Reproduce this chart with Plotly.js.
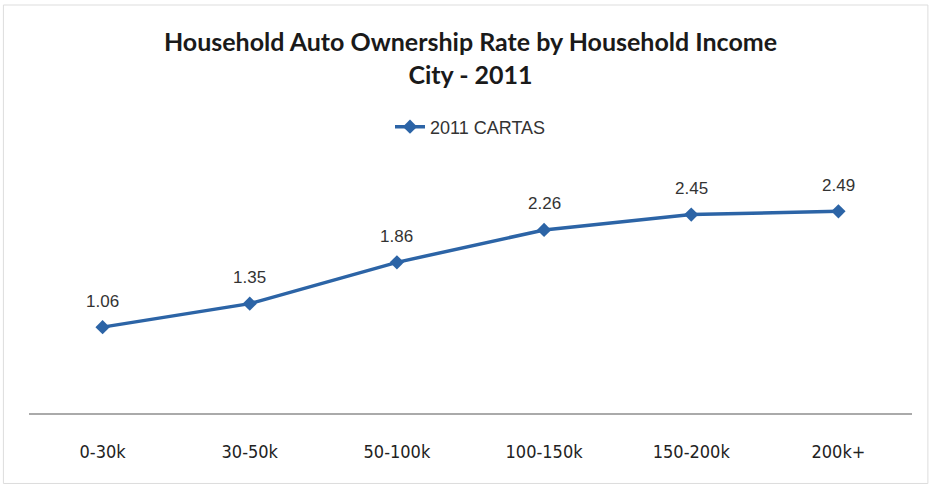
<!DOCTYPE html>
<html><head><meta charset="utf-8">
<script src="https://cdn.plot.ly/plotly-3.0.1.min.js"></script>
<style>html,body{margin:0;padding:0;background:#fff;}#chart{width:932px;height:486px;}</style>
</head><body><div id="chart"></div>
<script>
const categories = ["0-30k", "30-50k", "50-100k", "100-150k", "150-200k", "200k+"];
const values = [1.06, 1.35, 1.86, 2.26, 2.45, 2.49];
const labels = ["1.06", "1.35", "1.86", "2.26", "2.45", "2.49"];
const seriesName = "2011 CARTAS";
const lineColor = "#2c64a6";

const trace = {
  x: categories, y: values, type: "scatter", mode: "lines+markers", name: seriesName,
  line: {color: lineColor, width: 3.5},
  marker: {symbol: "diamond", size: 11, color: lineColor}
};
const annotations = categories.map((c, i) => ({
  x: c, y: values[i], text: labels[i], showarrow: false, yshift: 26,
  font: {family: "Liberation Sans, Arial", size: 17, color: "#333"}
}));
const layout = {
  width: 932, height: 486,
  margin: {l: 29, r: 20, t: 170, b: 73},
  paper_bgcolor: "#fff", plot_bgcolor: "#fff",
  title: {text: "<b>Household Auto Ownership Rate by Household Income</b><br><b>City - 2011</b>",
    x: 0.5, xanchor: "center", xref: "paper", yref: "container", y: 0.895, yanchor: "top",
    font: {family: "Lato, Open Sans, sans-serif", size: 25, color: "#1a1a1a"}},
  showlegend: true,
  legend: {orientation: "h", x: 0.5, xanchor: "center", y: 1.177, yanchor: "middle",
    font: {family: "Liberation Sans, Arial", size: 18, color: "#333"}},
  xaxis: {type: "category", range: [-0.5, 5.5], showline: true, linecolor: "#aaa", linewidth: 2,
    showgrid: false, ticks: "", zeroline: false, ticklabelstandoff: 21,
    tickfont: {family: "DejaVu Sans Condensed, Liberation Sans Narrow, sans-serif", size: 18, color: "#222"}},
  yaxis: {range: [0, 3], showgrid: false, showticklabels: false, zeroline: false, showline: false, ticks: ""},
  annotations: annotations,
  shapes: [{type: "rect", xref: "paper", yref: "paper", x0: -0.029, x1: 1.018, y0: -0.29, y1: 1.679,
    line: {color: "#ddd", width: 1}}]
};
Plotly.newPlot("chart", [trace], layout, {displayModeBar: false});
</script></body></html>
